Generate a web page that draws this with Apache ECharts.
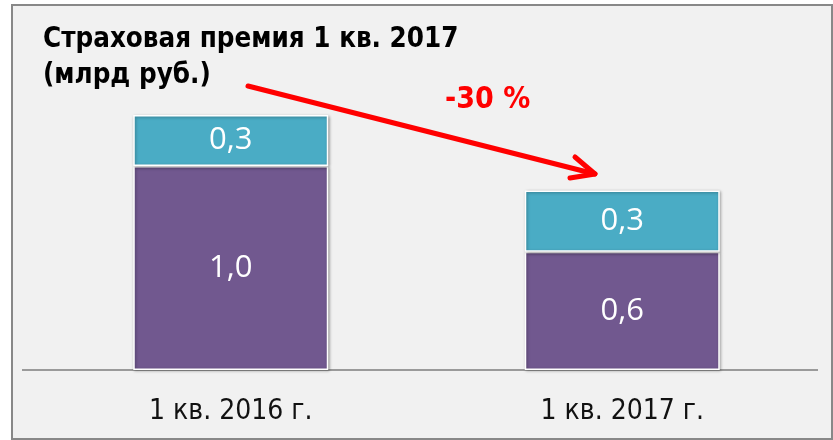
<!DOCTYPE html>
<html><head><meta charset="utf-8">
<script src="https://cdn.jsdelivr.net/npm/echarts@6/dist/echarts.min.js"></script>
<style>html,body{margin:0;padding:0;background:#fff;}#c{width:833px;height:440px;}</style>
</head><body><div id="c"></div>
<script>
const categories = ['1 кв. 2016 г.', '1 кв. 2017 г.'];
const baseValues = [1.0, 0.58];
const topValues = [0.25, 0.30];
const titleText = 'Страховая премия 1 кв. 2017\n(млрд руб.)';
const changeText = '-30 %';

const fmt = p => (Math.round(p.value * 10) / 10).toFixed(1).replace('.', ',');
const labelStyle = {show: true, position: 'inside', color: '#fff', fontFamily: 'Open Sans', fontWeight: 'normal', fontSize: 31, formatter: fmt};
const barStyle = {borderColor: '#fff', borderWidth: 1.5, shadowBlur: 3, shadowOffsetX: 1, shadowOffsetY: 1, shadowColor: 'rgba(0,0,0,0.35)'};

const chart = echarts.init(document.getElementById('c'));
chart.setOption({
  animation: false,
  backgroundColor: '#fff',
  title: {text: titleText, left: 38, top: 17,
    textStyle: {fontFamily: 'DejaVu Sans Condensed', fontWeight: 'bold', fontSize: 27.5, lineHeight: 36, color: '#000'}},
  grid: {left: 35, right: 15, top: 64, bottom: 70},
  xAxis: {type: 'category', data: categories,
    axisLine: {show: false}, axisTick: {show: false},
    axisLabel: {color: '#111', fontFamily: 'DejaVu Sans Condensed', fontSize: 28, margin: 28}},
  yAxis: {type: 'value', min: 0, max: 1.5, show: false, splitLine: {show: false}},
  series: [
    {type: 'bar', stack: 's', data: baseValues, barWidth: 195, itemStyle: Object.assign({color: '#71588f'}, barStyle), label: labelStyle, z: 3},
    {type: 'bar', stack: 's', data: topValues, barWidth: 195, itemStyle: Object.assign({color: '#4aacc5'}, barStyle), label: labelStyle, z: 3}
  ],
  graphic: [
    {type: 'rect', z: -10, shape: {x: 12, y: 5, width: 820, height: 434}, style: {fill: '#f1f1f1', stroke: '#888', lineWidth: 2}},
    {type: 'line', z: 1, shape: {x1: 22, y1: 370, x2: 818, y2: 370}, style: {stroke: '#9a9a9a', lineWidth: 2}},
    {type: 'polyline', z: 10, shape: {points: [[248, 86], [595, 174]]}, style: {stroke: '#ff0000', lineWidth: 5, lineCap: 'round', fill: null}},
    {type: 'polyline', z: 10, shape: {points: [[575, 157], [595, 174], [570, 178]]}, style: {stroke: '#ff0000', lineWidth: 5, lineCap: 'round', lineJoin: 'round', fill: null}},
    {type: 'text', z: 10, left: 445, top: 85, style: {text: changeText, fill: '#ff0000', font: 'bold 30px "DejaVu Sans Condensed"'}}
  ]
});
</script></body></html>
